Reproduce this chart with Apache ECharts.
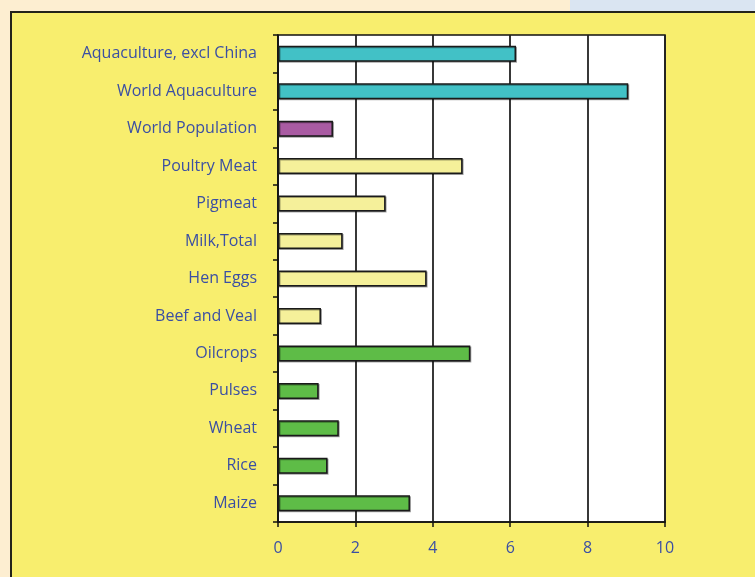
<!DOCTYPE html>
<html>
<head>
<meta charset="utf-8">
<script src="https://cdn.jsdelivr.net/npm/echarts@6/dist/echarts.min.js"></script>
<style>html,body{margin:0;padding:0;}#c{width:755px;height:577px;}</style>
</head>
<body>
<div id="c"></div>
<script>
// Data (top to bottom as in the picture)
var categories = ['Aquaculture, excl China', 'World Aquaculture', 'World Population', 'Poultry Meat', 'Pigmeat', 'Milk,Total', 'Hen Eggs', 'Beef and Veal', 'Oilcrops', 'Pulses', 'Wheat', 'Rice', 'Maize'];
var values = [6.15, 9.05, 1.42, 4.77, 2.78, 1.67, 3.84, 1.11, 4.97, 1.05, 1.57, 1.28, 3.41];
var groups = ['aquaculture', 'aquaculture', 'population', 'livestock', 'livestock', 'livestock', 'livestock', 'livestock', 'crops', 'crops', 'crops', 'crops', 'crops'];
var xTicks = [0, 2, 4, 6, 8, 10];

var groupColors = { aquaculture: '#42c1c6', population: '#a95ba2', livestock: '#f5f09a', crops: '#5ebc47' };
var labelBlue = '#3b4fa3';
var font = 'Open Sans';

var chart = echarts.init(document.getElementById('c'), null, { renderer: 'canvas' });
chart.setOption({
  backgroundColor: '#fdeed1',
  animation: false,
  graphic: [
    { type: 'rect', z: -10, silent: true, shape: { x: 570, y: 0, width: 200, height: 12 }, style: { fill: '#dae5f2' } },
    { type: 'rect', z: -9, silent: true, shape: { x: 11, y: 12, width: 800, height: 700 }, style: { fill: '#f8ee6e', stroke: '#23231a', lineWidth: 2 } }
  ],
  grid: { left: 278, right: 90, top: 35, bottom: 55, show: true, backgroundColor: '#ffffff', borderColor: '#111111', borderWidth: 1.5, containLabel: false },
  xAxis: {
    type: 'value', min: xTicks[0], max: xTicks[xTicks.length - 1], interval: 2,
    axisLine: { show: true, lineStyle: { color: '#111', width: 1.5 } },
    axisTick: { show: true, length: 5, lineStyle: { color: '#111', width: 1.5 } },
    axisLabel: { color: labelBlue, fontFamily: font, fontSize: 16, margin: 18 },
    splitLine: { show: true, lineStyle: { color: '#222', width: 1.8 } }
  },
  yAxis: {
    type: 'category', inverse: true, data: categories,
    axisLine: { show: true, lineStyle: { color: '#111', width: 1.5 } },
    axisTick: { show: true, length: 5, inside: false, lineStyle: { color: '#111', width: 1.5 } },
    axisLabel: { color: labelBlue, fontFamily: font, fontSize: 16, margin: 21, padding: [3, 0, 0, 0] },
    splitLine: { show: false }
  },
  series: [{
    type: 'bar',
    data: values,
    barWidth: 16,
    itemStyle: {
      color: function (p) { return groupColors[groups[p.dataIndex]]; },
      borderColor: '#1a1a1a', borderWidth: 1.5,
      shadowColor: 'rgba(0,0,0,0.35)', shadowOffsetX: 1, shadowOffsetY: 1, shadowBlur: 0
    }
  }]
});
</script>
</body>
</html>
